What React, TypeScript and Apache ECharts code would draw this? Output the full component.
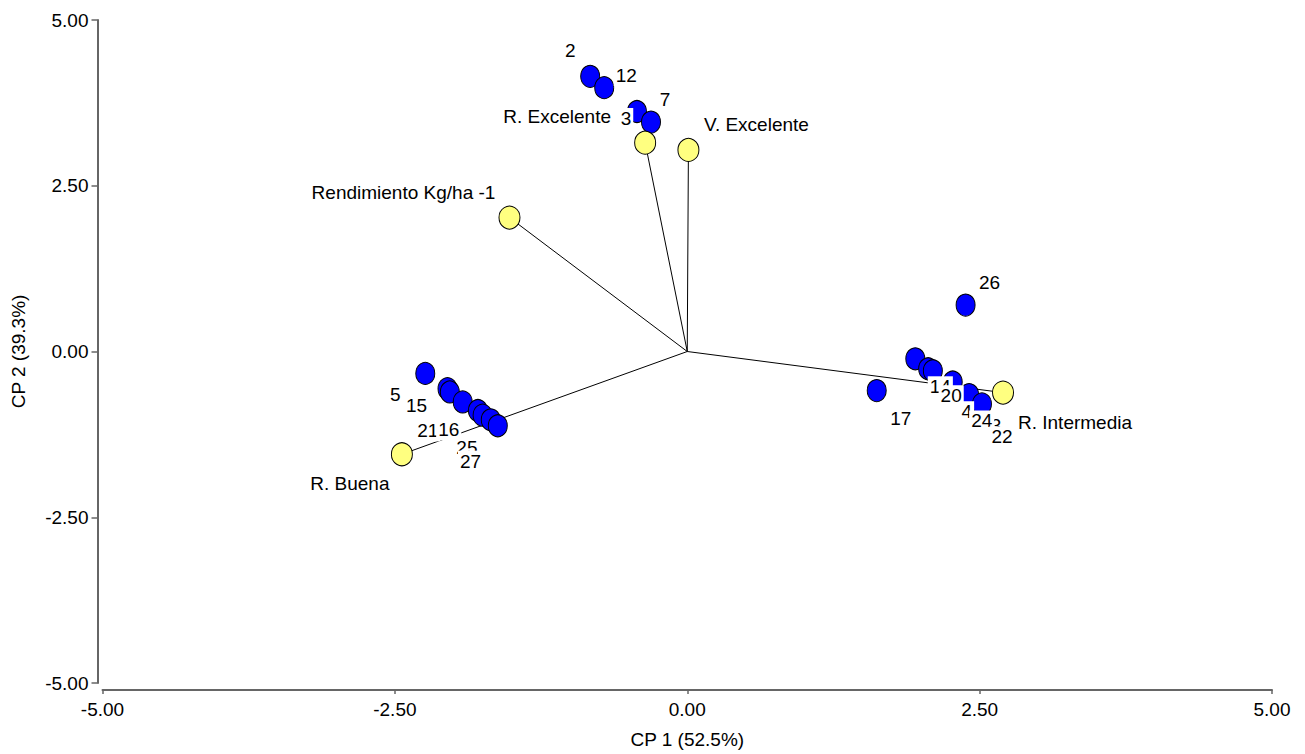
import React, { useEffect, useRef } from "react";
import * as echarts from "echarts";

// Observations (blue points)
const obsNames = ["2", "12", "3", "7", "26", "17", "14", "20", "4", "3", "24", "22", "5", "15", "21", "16", "25", "27", "", ""];
const obsX = [-0.83, -0.71, -0.43, -0.31, 2.38, 1.62, 1.95, 2.06, 2.1, 2.41, 2.27, 2.52, -2.24, -2.05, -2.03, -1.92, -1.79, -1.75, -1.68, -1.62];
const obsY = [4.15, 3.98, 3.62, 3.46, 0.7, -0.59, -0.11, -0.26, -0.29, -0.65, -0.46, -0.79, -0.33, -0.56, -0.61, -0.76, -0.89, -0.96, -1.03, -1.12];

// Variables (yellow vector ends)
const varNames = ["Rendimiento Kg/ha -1", "R. Excelente", "V. Excelente", "R. Intermedia", "R. Buena"];
const varX = [-1.52, -0.36, 0.01, 2.7, -2.44];
const varY = [2.02, 3.15, 3.04, -0.62, -1.55];

// Axis settings
const axisMin = -5;
const axisMax = 5;
const axisInterval = 2.5;
const xAxisName = "CP 1 (52.5%)";
const yAxisName = "CP 2 (39.3%)";

// Label layout (pixel offsets of label centres from their marks)
const obsLabelOffsets: ([number, number] | null)[] = [
  [-20, -26], [22, -12], [-11, 7], [14, -23], [24, -23], [24, 28],
  [25, 28], [23, 27], [34, 41], [27, 31], [29, 39], [20, 33],
  [-30, 21], [-31, 17], [-22, 39], [-14, 28], [-11, 37], [-12, 46], null, null,
];
const varLabelOffsets: [number, number][] = [[-106, -25], [-88, -26], [68, -25], [72, 30], [-52, 29]];

const FONT = 'Arial, "Liberation Sans", sans-serif';
const FS = 19;

export default function App() {
  const ref = useRef<HTMLDivElement>(null);
  useEffect(() => {
    document.body.style.margin = "0";
    if (!ref.current) return;
    const chart = echarts.init(ref.current, null, { renderer: "svg" });

    const lineSeries = varNames.map((n, i) => ({
      type: "line",
      name: "vec-" + n,
      data: [[0, 0], [varX[i], varY[i]]],
      showSymbol: false,
      symbol: "none",
      silent: true,
      lineStyle: { color: "#000", width: 1 },
      z: 2,
    }));

    const labelBase = {
      show: true,
      position: "inside",
      color: "#000",
      fontSize: FS,
      fontFamily: FONT,
      backgroundColor: "#fff",
      padding: [1, 2],
    };

    const obsData = obsNames.map((n, i) => {
      const off = obsLabelOffsets[i];
      return {
        name: n,
        value: [obsX[i], obsY[i]],
        label: off ? { ...labelBase, offset: off, formatter: n } : { show: false },
      };
    });

    const varData = varNames.map((n, i) => ({
      name: n,
      value: [varX[i], varY[i]],
      label: { ...labelBase, offset: varLabelOffsets[i], formatter: n },
    }));

    const axisCommon = {
      type: "value",
      min: axisMin,
      max: axisMax,
      interval: axisInterval,
      splitLine: { show: false },
      axisLine: { show: true, onZero: false, lineStyle: { color: "#666", width: 2 } },
      axisLabel: {
        color: "#000",
        fontSize: FS,
        fontFamily: FONT,
        formatter: (v: number) => v.toFixed(2),
      },
      nameLocation: "middle",
      nameTextStyle: { color: "#000", fontSize: FS, fontFamily: FONT },
    };

    chart.setOption({
      animation: false,
      backgroundColor: "#fff",
      grid: { left: 102.5, right: 33, top: 20, bottom: 69 },
      xAxis: {
        ...axisCommon,
        offset: 7,
        name: xAxisName,
        nameGap: 40,
        axisTick: { show: true, length: 4, lineStyle: { color: "#666", width: 1.5 } },
        axisLabel: { ...axisCommon.axisLabel, margin: 10 },
      },
      yAxis: {
        ...axisCommon,
        offset: 5,
        name: yAxisName,
        nameGap: 70,
        axisTick: { show: true, length: 6, lineStyle: { color: "#666", width: 1.5 } },
        axisLabel: { ...axisCommon.axisLabel, margin: 9 },
      },
      series: [
        {
          type: "scatter",
          name: "obs",
          data: obsData,
          symbol: "circle",
          symbolSize: [19, 22],
          itemStyle: { color: "#0000ff", borderColor: "#000", borderWidth: 1, opacity: 1 },
          silent: true,
          z: 2,
        },
        ...lineSeries,
        {
          type: "scatter",
          name: "vars",
          data: varData,
          symbol: "circle",
          symbolSize: [21, 23],
          itemStyle: { color: "#ffff80", borderColor: "#000", borderWidth: 1, opacity: 1 },
          silent: true,
          z: 2,
        },
      ],
    });
    return () => chart.dispose();
  }, []);
  return <div ref={ref} style={{ width: 1305, height: 754 }} />;
}
